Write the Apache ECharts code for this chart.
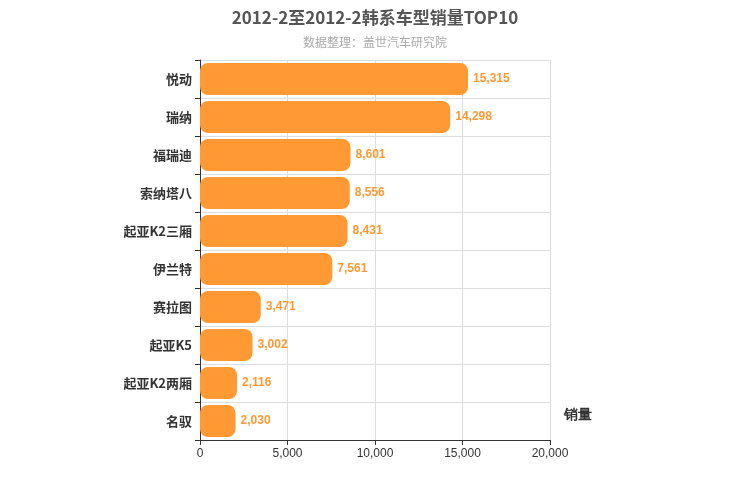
<!DOCTYPE html>
<html>
<head>
<meta charset="utf-8">
<script src="https://cdn.jsdelivr.net/npm/echarts@6/dist/echarts.min.js"></script>
<style>html,body{margin:0;padding:0;background:#fff}#echarts{width:750px;height:500px}</style>
</head>
<body>
<div id="echarts"></div>
<script>
var categories = ['悦动', '瑞纳', '福瑞迪', '索纳塔八', '起亚K2三厢', '伊兰特', '赛拉图', '起亚K5', '起亚K2两厢', '名驭']
var sales = [15315, 14298, 8601, 8556, 8431, 7561, 3471, 3002, 2116, 2030]
var xTicks = [0, 5000, 10000, 15000, 20000]

var chart = echarts.init(document.getElementById('echarts'))

var option = {
    title: {
        text: '2012-2至2012-2韩系车型销量TOP10',
        subtext: '数据整理：盖世汽车研究院',
        left: 'center',
        top: 4,
        itemGap: 10,
        textStyle: {fontSize: 17, fontWeight: 'bold', color: '#555', fontFamily: 'Noto Sans CJK SC'},
        subtextStyle: {fontSize: 12, color: '#aaa', fontFamily: 'Noto Sans CJK SC'}
    },
    grid: {left: 200, right: 200, top: 60, bottom: 60},
    xAxis: {
        type: 'value',
        min: xTicks[0],
        max: xTicks[xTicks.length - 1],
        interval: 5000,
        name: '销量',
        nameLocation: 'end',
        nameGap: 14,
        nameTextStyle: {fontSize: 14, fontWeight: 'bold', color: '#333', verticalAlign: 'bottom', padding: [0, 0, 18, 0]},
        axisLine: {show: true, lineStyle: {color: '#333'}},
        axisTick: {show: true, lineStyle: {color: '#333'}},
        axisLabel: {color: '#333', fontSize: 12},
        splitLine: {lineStyle: {color: '#ddd'}}
    },
    yAxis: {
        type: 'category',
        inverse: true,
        data: categories,
        axisLine: {lineStyle: {color: '#333'}},
        axisTick: {show: true, alignWithLabel: false, lineStyle: {color: '#333'}},
        axisLabel: {color: '#333', fontSize: 13, fontWeight: 'bold', fontFamily: 'Noto Sans CJK SC'},
        splitLine: {show: true, lineStyle: {color: '#ddd'}}
    },
    series: [{
        type: 'bar',
        data: sales,
        barWidth: 32,
        itemStyle: {color: '#ff9933', borderRadius: 8},
        label: {
            show: true,
            position: 'right',
            color: '#ff9933',
            fontSize: 12,
            fontWeight: 'bold',
            formatter: function (p) { return p.value.toLocaleString('en-US') }
        }
    }]
}

chart.setOption(option)
</script>
</body>
</html>
